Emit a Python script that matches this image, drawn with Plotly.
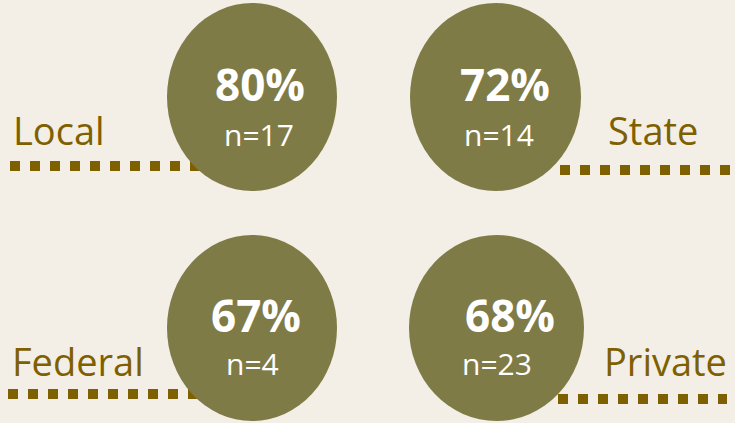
import plotly.graph_objects as go

# ---- data ----
categories = ["Local", "State", "Federal", "Private"]
percent = [80, 72, 67, 68]
n_values = [17, 14, 4, 23]

# ---- layout constants (pixel coordinates, y downward) ----
W, H = 735, 423
BG = "#F3EFE6"
CIRCLE = "#7F7B47"
BROWN = "#7F6000"

circle_boxes = [(167, 337, 3, 191), (410, 581, 3, 191), (167, 337, 235, 421), (409, 584, 235, 421)]
pct_pos = [(260, 84), (505, 84), (256, 315), (510, 315)]
n_pos = [(259, 134), (499, 134), (252, 363), (497, 363)]
label_pos = [(11, 130, "left"), (700, 130, "right"), (10, 361, "left"), (729, 361, "right")]
line_spans = [(10, 250, 166), (560, 730, 170), (8, 250, 394), (558, 727, 399)]

fig = go.Figure()

for cat, (x0, x1, y) in zip(categories, line_spans):
    fig.add_trace(go.Scatter(
        x=[x0, x1], y=[y, y], mode="lines", name=cat,
        line=dict(color=BROWN, width=10, dash="10px,10px"),
        hoverinfo="skip", showlegend=False,
    ))

for (x0, x1, y0, y1) in circle_boxes:
    fig.add_shape(type="circle", xref="x", yref="y", x0=x0, x1=x1, y0=y0, y1=y1,
                  fillcolor=CIRCLE, line=dict(width=0), layer="above")

for cat, (x, y, anc) in zip(categories, label_pos):
    fig.add_annotation(x=x, y=y, text=cat, showarrow=False, xanchor=anc, yanchor="middle",
                       font=dict(family="Open Sans", size=38, color=BROWN))

for p, (x, y) in zip(percent, pct_pos):
    fig.add_annotation(x=x, y=y, text=f"<b>{p}%</b>", showarrow=False, xanchor="center", yanchor="middle",
                       font=dict(family="Open Sans", size=44, color="white"))

for nv, (x, y) in zip(n_values, n_pos):
    fig.add_annotation(x=x, y=y, text=f"n={nv}", showarrow=False, xanchor="center", yanchor="middle",
                       font=dict(family="Open Sans", size=30, color="white"))

fig.update_layout(
    width=W, height=H, autosize=False,
    margin=dict(l=0, r=0, t=0, b=0),
    paper_bgcolor=BG, plot_bgcolor=BG,
    xaxis=dict(range=[0, W], visible=False, fixedrange=True),
    yaxis=dict(range=[H, 0], visible=False, fixedrange=True),
    showlegend=False,
)

fig.write_html("out.html", config={"displayModeBar": False, "staticPlot": True},
               post_script="document.body.style.margin='0';")
